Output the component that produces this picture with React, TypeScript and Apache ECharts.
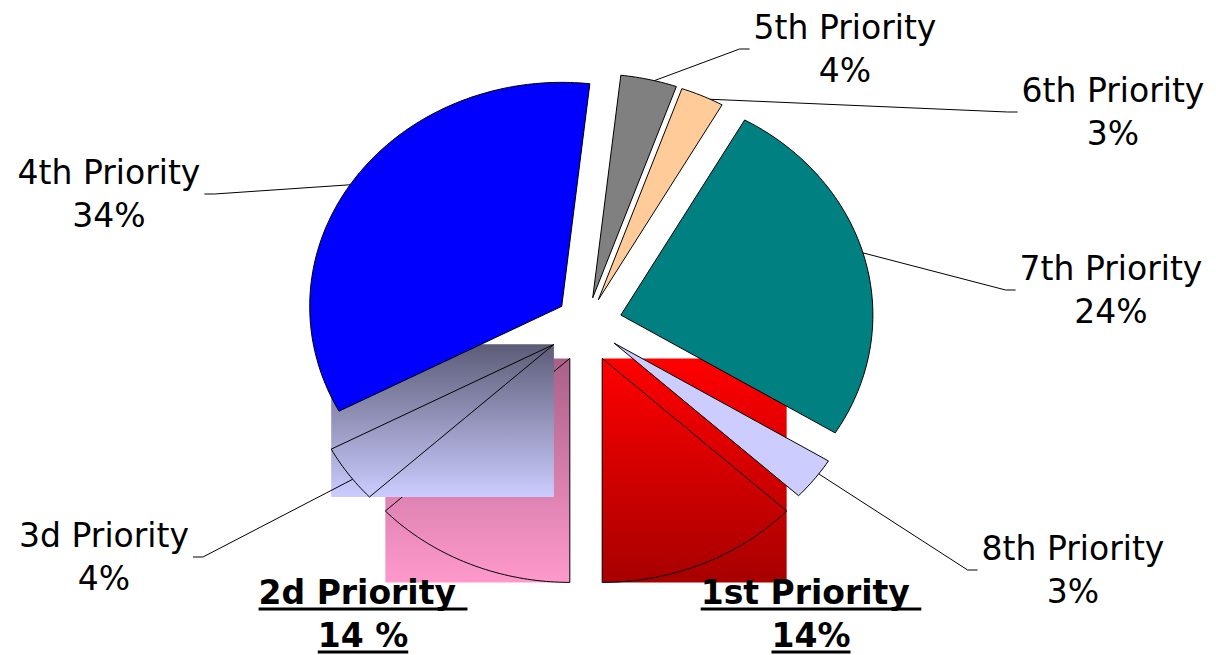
import React, { useEffect, useRef } from 'react';
import * as echarts from 'echarts';

// ---- data ----
const CATEGORIES = ['2d Priority', '3d Priority', '4th Priority', '5th Priority', '6th Priority', '7th Priority', '8th Priority', '1st Priority'];
const VALUES = [14, 4, 34, 4, 3, 24, 3, 14];
const VALUE_LABELS = ['14 %', '4%', '34%', '4%', '3%', '24%', '3%', '14%'];
const EMPHASIZED = [true, false, false, false, false, false, false, true];

// ---- styles / layout ----
const COLORS: (string | null)[] = [null, null, '#0000FF', '#808080', '#FFCC99', '#008080', '#CCCCFF', null];
const GRADIENTS: Record<number, [string, string]> = {
  0: ['#A86088', '#FF99CC'],
  1: ['#5C5C78', '#CCCCFF'],
  7: ['#FF0000', '#A80000'],
};
const GRADIENT_LAYER: Record<number, number> = { 0: 0, 1: 1, 7: 2 };
const EXPLODE = [38, 38, 30, 27, 27, 36, 34, 38];
const LEADER_FRACTION = [0.5, 0.4, 0.45, 0.6, 0.7, 0.5, 0.35, 0.5];
const LABEL_POS: [number, number][] = [
  [363, 614], [104, 557], [109, 194], [845, 49], [1113, 112], [1111, 290], [1073, 570], [811, 614],
];
const CX = 586;
const CY = 324;
const RX = 252;
const RY = 224;
const FONT_FAMILY = '"DejaVu Sans", Verdana, sans-serif';
const FONT_SIZE = 33;
const LINE_H = 43;

export default function App() {
  const ref = useRef<HTMLDivElement>(null);

  useEffect(() => {
    if (!ref.current) return;
    const chart = echarts.init(ref.current, undefined, { renderer: 'svg' });

    const canvas = document.createElement('canvas');
    const ctx = canvas.getContext('2d')!;
    const measure = (s: string, font: string) => {
      ctx.font = font;
      return ctx.measureText(s).width;
    };
    const normalFont = `${FONT_SIZE}px ${FONT_FAMILY}`;
    const boldFont = `bold ${FONT_SIZE}px ${FONT_FAMILY}`;

    const total = VALUES.reduce((a, b) => a + b, 0);
    const dir = (t: number) => [-Math.sin(t), Math.cos(t)];
    const rad = (t: number) => {
      const [dx, dy] = dir(t);
      return (RX * RY) / Math.sqrt((RY * dx) ** 2 + (RX * dy) ** 2);
    };

    const renderItem = (params: any, api: any) => {
      const i = params.dataIndex;
      const v = api.value(0);
      let cum = 0;
      for (let j = 0; j < i; j++) cum += VALUES[j];
      const a0 = (cum / total) * Math.PI * 2;
      const a1 = ((cum + v) / total) * Math.PI * 2;
      const mid = (a0 + a1) / 2;
      const [mdx, mdy] = dir(mid);
      const ox = CX + EXPLODE[i] * mdx;
      const oy = CY + EXPLODE[i] * mdy;

      const pts: number[][] = [[ox, oy]];
      const steps = Math.max(4, Math.ceil(((a1 - a0) * 180) / Math.PI));
      for (let k = 0; k <= steps; k++) {
        const t = a0 + ((a1 - a0) * k) / steps;
        const [dx, dy] = dir(t);
        const r = rad(t);
        pts.push([ox + r * dx, oy + r * dy]);
      }
      const xs = pts.map((p) => p[0]);
      const ys = pts.map((p) => p[1]);
      const minX = Math.min(...xs), maxX = Math.max(...xs);
      const minY = Math.min(...ys), maxY = Math.max(...ys);

      const children: any[] = [];
      const grad = GRADIENTS[i];
      if (grad) {
        const layer = GRADIENT_LAYER[i];
        children.push({
          type: 'rect',
          shape: { x: minX, y: minY, width: maxX - minX, height: maxY - minY },
          style: {
            fill: {
              type: 'linear', x: 0, y: 0, x2: 0, y2: 1,
              colorStops: [{ offset: 0, color: grad[0] }, { offset: 1, color: grad[1] }],
            },
          },
          z2: layer * 2,
        });
        children.push({
          type: 'polygon',
          shape: { points: pts },
          style: { fill: 'none', stroke: '#000', lineWidth: 1 },
          z2: layer * 2 + 1,
        });
      } else {
        children.push({
          type: 'polygon',
          shape: { points: pts },
          style: { fill: COLORS[i], stroke: '#000', lineWidth: 1 },
          z2: 10,
        });
      }

      const [lx, ly] = LABEL_POS[i];
      const name = CATEGORIES[i];
      const pct = VALUE_LABELS[i];
      if (EMPHASIZED[i]) {
        const lines = [name + ' ', pct];
        lines.forEach((s, k) => {
          const cy = ly + (k === 0 ? -LINE_H / 2 : LINE_H / 2);
          const w = measure(s, boldFont);
          children.push({
            type: 'text',
            x: lx,
            y: cy,
            style: {
              text: s, fill: '#000', font: boldFont,
              align: 'center', verticalAlign: 'middle',
            },
            z2: 30,
          });
          children.push({
            type: 'rect',
            shape: { x: lx - w / 2, y: cy + 15, width: w, height: 3 },
            style: { fill: '#000' },
            z2: 30,
          });
        });
      } else {
        const w = Math.max(measure(name, normalFont), measure(pct, normalFont));
        const ta = a0 + (a1 - a0) * LEADER_FRACTION[i];
        const [tdx, tdy] = dir(ta);
        const r = rad(ta);
        const sx = ox + r * tdx;
        const sy = oy + r * tdy;
        const right = lx > sx;
        const ex = right ? lx - w / 2 - 4 : lx + w / 2 + 4;
        const elbow = right ? ex - 10 : ex + 10;
        children.push({
          type: 'polyline',
          shape: { points: [[sx, sy], [elbow, ly], [ex, ly]] },
          style: { stroke: '#000', lineWidth: 1, fill: 'none' },
          z2: 20,
        });
        children.push({
          type: 'text',
          x: lx,
          y: ly,
          style: {
            text: name + '\n' + pct, fill: '#000', font: normalFont,
            lineHeight: LINE_H, align: 'center', verticalAlign: 'middle',
          },
          z2: 30,
        });
      }
      return { type: 'group', children };
    };

    chart.setOption({
      animation: false,
      series: [
        {
          type: 'custom',
          coordinateSystem: 'none',
          silent: true,
          renderItem,
          data: VALUES.map((v, i) => ({ name: CATEGORIES[i], value: v })),
        },
      ],
    });

    return () => chart.dispose();
  }, []);

  return (
    <div
      ref={ref}
      style={{ position: 'fixed', left: 0, top: 0, width: 1216, height: 655, background: '#fff' }}
    />
  );
}
